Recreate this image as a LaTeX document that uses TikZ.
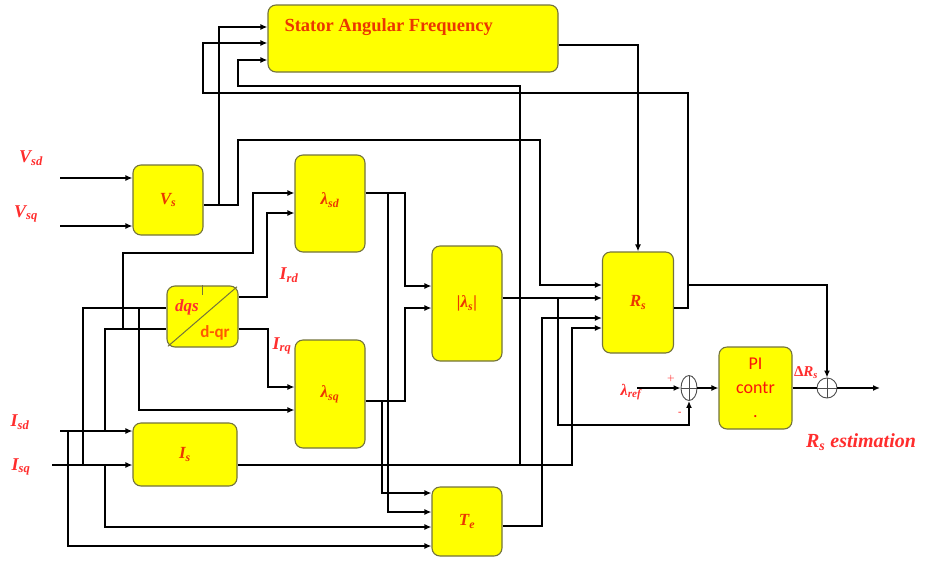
\documentclass[tikz,border=0pt]{standalone}
\usepackage{amsmath,amssymb,bm}
\usepackage{fontspec}
\usepackage{xcolor}
\usepackage{tikz}
\usetikzlibrary{arrows.meta,positioning,calc,shapes.geometric}
\newfontfamily\serifbold{Liberation Serif}
\newfontfamily\calib{Carlito}
\definecolor{blockyellow}{RGB}{255,255,0}
\definecolor{blockedge}{RGB}{115,115,60}
\definecolor{blkred}{RGB}{235,55,0}
\definecolor{sigred}{RGB}{255,45,45}
\definecolor{pired}{RGB}{250,20,10}

\begin{document}
\begin{tikzpicture}[x=1pt,y=-1pt,>={Latex[length=7pt,width=6pt]},
  blk/.style={draw=blockedge,line width=1.1pt,rounded corners=8pt,fill=blockyellow,
    text=blkred,inner sep=0pt,font=\serifbold\bfseries\itshape\fontsize{17}{19}\selectfont},
  wire/.style={line width=1.4pt,black},
  sig/.style={text=sigred,font=\serifbold\bfseries\itshape\fontsize{18}{20}\selectfont},
  sumpt/.style={draw=gray!60!black,line width=0.9pt,inner sep=0pt,
    path picture={\draw[gray!60!black,line width=0.8pt]
      (path picture bounding box.north) -- (path picture bounding box.south)
      (path picture bounding box.west) -- (path picture bounding box.east);}}]
\useasboundingbox (0,0) rectangle (928,563);

% blocks
\node[blk,minimum width=290,minimum height=67] (stator) at (413,38.5) {};
\node[anchor=west,text=blkred,font=\serifbold\bfseries\fontsize{18.5}{20}\selectfont] (statortxt) at (281,27) {Stator Angular Frequency};
\node[blk,minimum width=70,minimum height=70] (vs) at (168,200) {V\textsubscript{s}};
\node[blk,minimum width=70,minimum height=97] (lamsd) at (330,203.5) {\raisebox{10pt}{λ\textsubscript{sd}}};
\node[blk,minimum width=70,minimum height=108] (lamsq) at (330,394) {λ\textsubscript{sq}};
\node[blk,minimum width=70,minimum height=115] (lamabs) at (467,303.5) {|λ\textsubscript{s}|};
\node[blk,minimum width=70,minimum height=69] (te) at (467,521.5) {T\textsubscript{e}};
\node[blk,minimum width=104,minimum height=63] (is) at (185,454.5) {I\textsubscript{s}};
\node[blk,minimum width=71,minimum height=61] (dq) at (202.5,316.5) {};
\node[blk,minimum width=71,minimum height=101] (rs) at (638,302.5) {R\textsubscript{s}};
\node[blk,minimum width=73,minimum height=82,align=center,text=pired,
  font=\calib\fontsize{18}{24}\selectfont] (pi) at (755.5,388) {PI\\contr\\.};
\node[sumpt,ellipse,minimum width=16,minimum height=25] (suma) at (689,388) {};
\node[sumpt,circle,minimum size=20] (sumb) at (827,388) {};

% dq transform block
\draw[blockedge,line width=1pt,shorten <=2pt,shorten >=2pt] (dq.south west) -- (dq.north east);
\draw[blockedge,line width=1pt] (dq.north) -- ++(0,10);
\node[text=sigred,font=\serifbold\bfseries\itshape\fontsize{17}{19}\selectfont] (dqs) at (187,307) {dqs};
\node[text=orange!70!red,font=\calib\bfseries\fontsize{17}{19}\selectfont] (dqr) at (215,333) {d-qr};

% signal labels
\node[sig] (lvsd) at (31,158) {V\textsubscript{sd}};
\node[sig] (lvsq) at (26,214) {V\textsubscript{sq}};
\node[sig] (lird) at (289,275) {I\textsubscript{rd}};
\node[sig] (lirq) at (282,346) {I\textsubscript{rq}};
\node[sig] (lisd) at (20,422) {I\textsubscript{sd}};
\node[sig] (lisq) at (21,467) {I\textsubscript{sq}};
\node[sig,font=\serifbold\bfseries\itshape\fontsize{16}{18}\selectfont] (lref) at (631,392) {λ\textsubscript{ref}};
\node[sig,font=\serifbold\bfseries\fontsize{15}{17}\selectfont] (ldr) at (806,373) {Δ\textit{R}\textsubscript{\itshape s}};
\node[sig,font=\serifbold\bfseries\itshape\fontsize{20}{22}\selectfont] (lest) at (861,442) {R\textsubscript{s} estimation};
\node[text=sigred,font=\bfseries\fontsize{8}{8}\selectfont] (lplus) at (671,378) {+};
\node[text=sigred,font=\bfseries\fontsize{8}{8}\selectfont] (lminus) at (680,413) {-};

% free ends and bends
\coordinate (vsdin) at (60,178);
\coordinate (vsqin) at (60,226);
\coordinate (isdin) at (60,431);
\coordinate (isqin) at (52,465);
\coordinate (lrefin) at (637,388);
\coordinate (estout) at (880,388);
\coordinate (vsj1) at (219,205);
\coordinate (vsj2) at (238,140);
\coordinate (vsj3) at (540,285);
\coordinate (sfa) at (219,27);
\coordinate (sfb) at (203,43);
\coordinate (sfc) at (238,60);
\coordinate (sfo) at (638,45);
\coordinate (rso) at (688,308);
\coordinate (rsj) at (688,285);
\coordinate (fbk) at (688,93);
\coordinate (isj) at (520,465);
\coordinate (isb) at (572,328);
\coordinate (isu) at (520,86);
\coordinate (lsj) at (558,298);
\coordinate (lsdn) at (558,425);
\coordinate (teo) at (542,526);
\coordinate (teb) at (542,318);
\coordinate (sdo) at (405,193);
\coordinate (sdb) at (405,286);
\coordinate (sdj) at (388,193);
\coordinate (sdt) at (388,512);
\coordinate (sqo) at (405,401);
\coordinate (sqb) at (405,308);
\coordinate (sqj) at (382,401);
\coordinate (sqt) at (382,493);
\coordinate (ird) at (267,297);
\coordinate (irdt) at (267,213);
\coordinate (irq) at (268,329);
\coordinate (irqt) at (268,387);
\coordinate (ja) at (68,431);
\coordinate (jat) at (68,546);
\coordinate (jb) at (83,465);
\coordinate (jbt) at (83,308);
\coordinate (jc) at (105,431);
\coordinate (jct) at (105,329);
\coordinate (jd) at (123,329);
\coordinate (jdt) at (123,253);
\coordinate (jdu) at (253,193);
\coordinate (je) at (139,308);
\coordinate (jet) at (139,410);
\coordinate (jf) at (105,465);
\coordinate (jft) at (105,527);

% voltage side
\draw[wire,->] (vsdin) -- (vs.west |- vsdin);
\draw[wire,->] (vsqin) -- (vs.west |- vsqin);
\draw[wire,->] (vs.east |- vsj1) -| (vsj2) -| (vsj3) -- (rs.west |- vsj3);
\draw[wire,->] (vsj1) -- (sfa) -- (stator.west |- sfa);
\draw[wire,->] (stator.east |- sfo) -| (rs.north);
\draw[wire,->] (rs.east |- rso) -- (rso) -- (fbk) -| (sfb) -- (stator.west |- sfb);
\draw[wire,->] (rsj) -| (sumb.north);

% current side
\draw[wire,->] (isdin) -- (is.west |- isdin);
\draw[wire,->] (isqin) -- (is.west |- isqin);
\draw[wire,->] (is.east |- isj) -| (isb) -- (rs.west |- isb);
\draw[wire,->] (isj) -- (isu) -| (sfc) -- (stator.west |- sfc);
\draw[wire,->] (ja) -- (jat) -- (te.west |- jat);
\draw[wire] (jb) -- (jbt) -- (dq.west |- jbt);
\draw[wire] (jc) -- (jct) -- (dq.west |- jct);
\draw[wire,->] (jd) -- (jdt) -| (jdu) -- (lamsd.west |- jdu);
\draw[wire,->] (je) -- (jet) -- (lamsq.west |- jet);
\draw[wire,->] (jf) -- (jft) -- (te.west |- jft);
\draw[wire,->] (dq.east |- ird) -- (ird) -- (irdt) -- (lamsd.west |- irdt);
\draw[wire,->] (dq.east |- irq) -- (irq) -- (irqt) -- (lamsq.west |- irqt);

% flux and torque
\draw[wire,->] (lamsd.east |- sdo) -- (sdo) -- (sdb) -- (lamabs.west |- sdb);
\draw[wire,->] (sdj) -- (sdt) -- (te.west |- sdt);
\draw[wire,->] (lamsq.east |- sqo) -- (sqo) -- (sqb) -- (lamabs.west |- sqb);
\draw[wire,->] (sqj) -- (sqt) -- (te.west |- sqt);
\draw[wire,->] (lamabs.east |- lsj) -- (rs.west |- lsj);
\draw[wire,->] (lsj) -- (lsdn) -| (suma.south);
\draw[wire,->] (te.east |- teo) -- (teo) -- (teb) -- (rs.west |- teb);

% PI loop
\draw[wire,->] (lrefin) -- (suma.west);
\draw[wire,->] (suma.east) -- (pi.west);
\draw[wire] (pi.east) -- (sumb.west);
\draw[wire,->] (sumb.east) -- (estout);
\end{tikzpicture}
\end{document}
